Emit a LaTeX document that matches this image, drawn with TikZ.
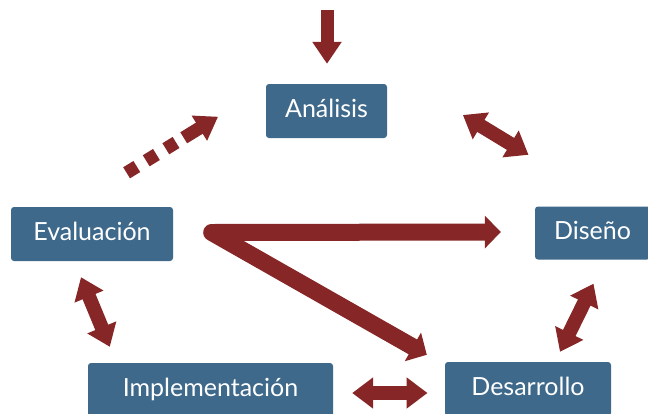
\documentclass[tikz,border=0pt]{standalone}
\usepackage{fontspec}
\setmainfont{Lato}
\usetikzlibrary{arrows.meta}
\definecolor{azul}{RGB}{62,105,139}
\definecolor{rojo}{RGB}{135,38,38}
\begin{document}
\begin{tikzpicture}[x=1pt, y=-1pt,
    caja/.style={fill=azul, rounded corners=3pt, text=white, inner sep=0pt,
        font=\fontsize{25}{29}\selectfont, text height=18pt, text depth=6pt},
    flecha/.style={draw=rojo, line width=13pt, -{Triangle[width=28pt,length=22pt]}},
    doble/.style={draw=rojo, line width=14pt,
        {Triangle[width=30pt,length=21pt]}-{Triangle[width=30pt,length=21pt]}},
    zeta/.style={draw=rojo, line width=17pt, line join=round,
        {Triangle[width=32pt,length=16pt]}-{Triangle[width=32pt,length=16pt]}}]
    \clip (0,0) rectangle (648,413);
    \node[caja, minimum width=121pt, minimum height=54pt] (analisis) at (326.5,111) {Análisis\hspace{8pt}};
    \node[caja, minimum width=162pt, minimum height=54pt] (evaluacion) at (92,234) {Evaluación\hspace{8pt}};
    \node[caja, minimum width=115pt, minimum height=53pt] (diseno) at (592.5,233) {Diseño};
    \node[caja, minimum width=245pt, minimum height=54pt] (implementacion) at (210.5,390) {Implementación};
    \node[caja, minimum width=166pt, minimum height=54pt] (desarrollo) at (528,389) {Desarrollo\hspace{6pt}};
    \coordinate (arriba) at (327,10);
    \coordinate (esquina) at ([shift={(38.5,-1.5)}]evaluacion.east);
    \draw[flecha] (arriba) -- ([shift={(0.5,-20)}]analisis.north);
    \draw[flecha, dash pattern=on 12pt off 11pt on 12pt off 11pt on 12pt off 9pt on 40pt]
        ([shift={(34.6,-34)}]evaluacion.north) -- ([shift={(-47.7,5.7)}]analisis.west);
    \draw[doble] ([shift={(75.7,4)}]analisis.east) -- ([shift={(-64,-51.5)}]diseno.north);
    \draw[zeta] ([shift={(-18,-7)}]desarrollo.north west) -- (esquina) -- ([shift={(-34,-1)}]diseno.west);
    \draw[doble] ([shift={(1,24)}]diseno.south) -- ([shift={(32,-10)}]desarrollo.north);
    \draw[doble] ([shift={(-11,16)}]evaluacion.south) -- ([shift={(22,-16)}]implementacion.north west);
    \draw[doble] ([shift={(19,3)}]implementacion.east) -- ([shift={(-17.3,4)}]desarrollo.west);
\end{tikzpicture}
\end{document}
